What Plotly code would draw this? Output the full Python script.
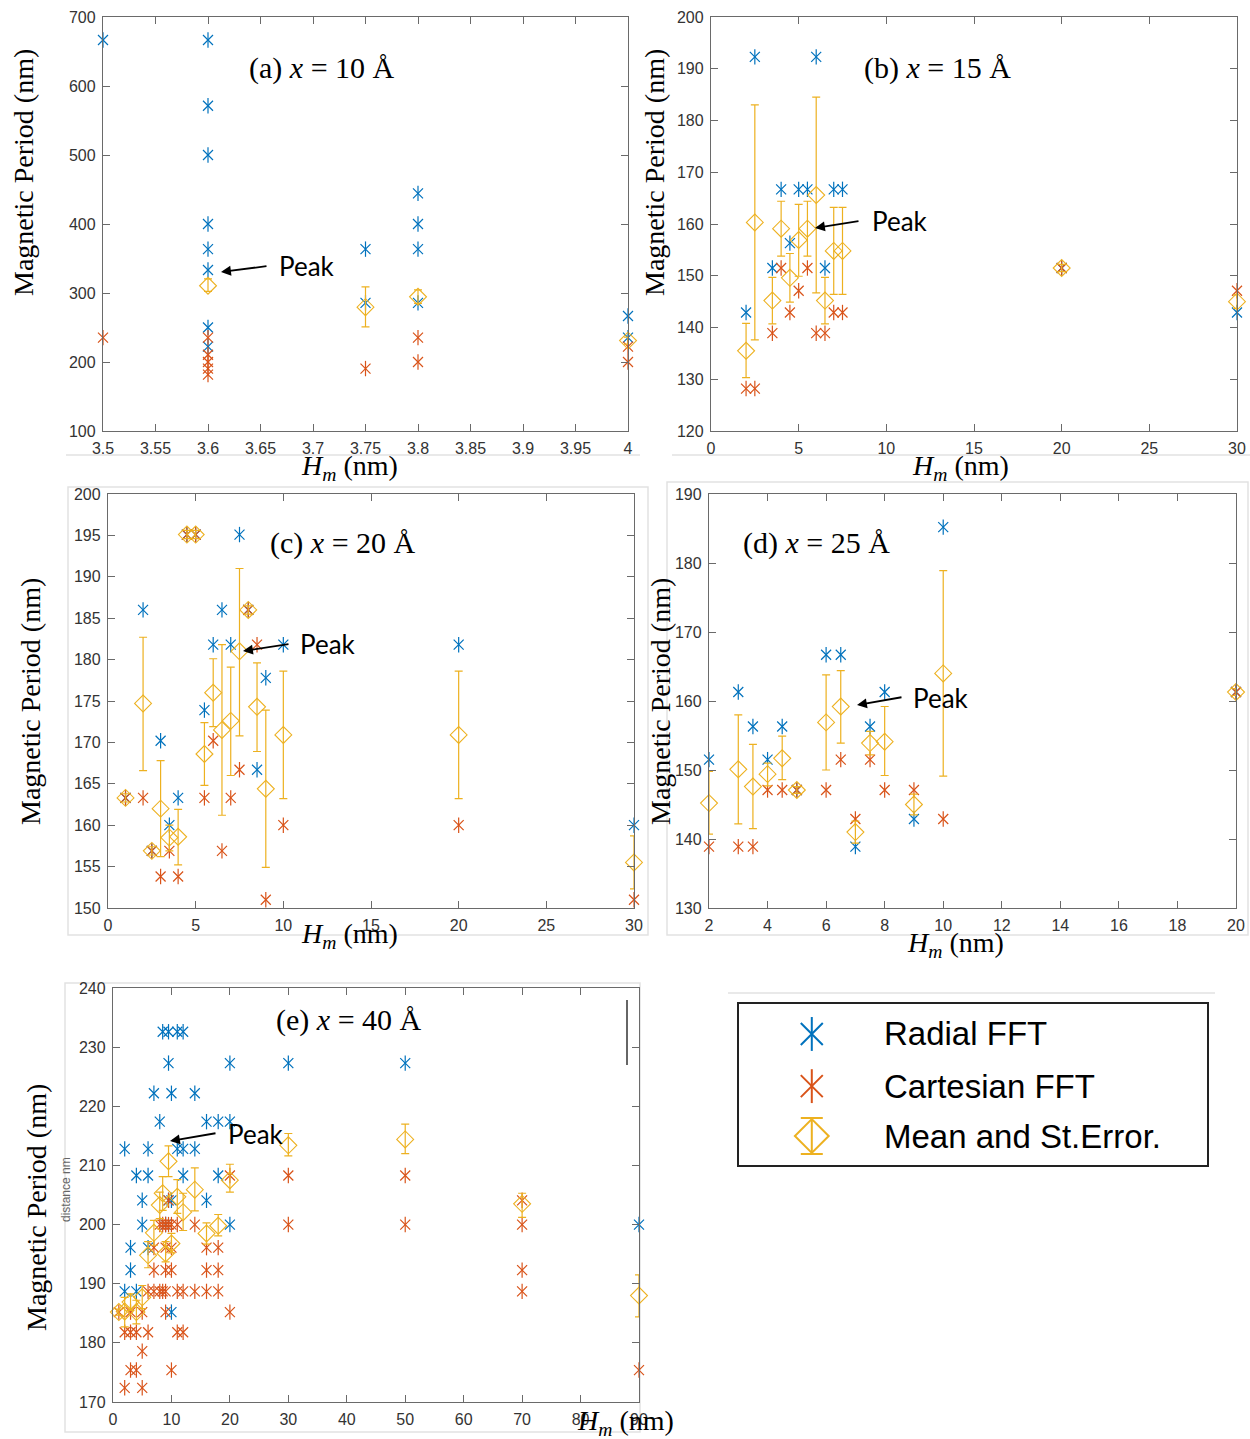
import plotly.graph_objects as go

W, H = 1250, 1439
BLUE = '#0072BD'
ORANGE = '#D95319'
YELLOW = '#EDB120'

# ---------------- Panel (a) x = 10 Å ----------------
a_rad_x = [3.5, 3.6, 3.6, 3.6, 3.6, 3.6, 3.6, 3.6, 3.6, 3.75, 3.75, 3.8, 3.8, 3.8, 3.8, 4, 4]
a_rad_y = [666.7, 666.7, 571.4, 500, 400, 363.6, 333.3, 250, 222.2, 363.6, 285.7, 444.4, 400, 363.6, 285.7, 266.7, 235.3]
a_cart_x = [3.5, 3.6, 3.6, 3.6, 3.6, 3.6, 3.75, 3.8, 3.8, 4, 4]
a_cart_y = [235.3, 235.3, 210.5, 200, 190.5, 181.8, 190.5, 235.3, 200, 222.2, 200]
a_mean_x = [3.6, 3.75, 3.8, 4]
a_mean_y = [310.5, 279.5, 294.5, 231]
a_hi = [320.5, 309, 304.5, 236]
a_lo = [302.5, 251, 285, 226]
a_xticks = [3.5, 3.55, 3.6, 3.65, 3.7, 3.75, 3.8, 3.85, 3.9, 3.95, 4]
a_xlabels = ['3.5', '3.55', '3.6', '3.65', '3.7', '3.75', '3.8', '3.85', '3.9', '3.95', '4']
a_yticks = [100, 200, 300, 400, 500, 600, 700]

# ---------------- Panel (b) x = 15 Å ----------------
b_x = [2, 2.5, 3.5, 4, 4.5, 5, 5.5, 6, 6.5, 7, 7.5, 20, 30]
b_rad_y = [142.9, 192.3, 151.5, 166.7, 156.3, 166.7, 166.7, 192.3, 151.5, 166.7, 166.7, 151.5, 142.9]
b_cart_y = [128.2, 128.2, 138.9, 151.5, 142.9, 147.1, 151.5, 138.9, 138.9, 142.9, 142.9, 151.5, 147.1]
b_mean_y = [135.5, 160.3, 145.2, 159.1, 149.6, 156.9, 159.1, 165.6, 145.2, 154.8, 154.8, 151.5, 145.0]
b_hi = [140.8, 183.0, 149.7, 164.4, 154.3, 163.8, 164.4, 184.5, 149.7, 163.2, 163.2, 152.2, 146.3]
b_lo = [130.3, 137.6, 140.7, 153.8, 144.9, 149.9, 153.8, 146.7, 140.7, 146.4, 146.4, 150.8, 143.7]
b_xticks = [0, 5, 10, 15, 20, 25, 30]
b_yticks = [120, 130, 140, 150, 160, 170, 180, 190, 200]

# ---------------- Panel (c) x = 20 Å ----------------
c_x = [1, 2, 2.5, 3, 3.5, 4, 4.5, 5, 5.5, 6, 6.5, 7, 7.5, 8, 8.5, 9, 10, 20, 30]
c_rad_y = [163.3, 186.0, 156.9, 170.2, 160.0, 163.3, 195.1, 195.1, 173.9, 181.8, 186.0, 181.8, 195.1, 186.0, 166.7, 177.8, 181.8, 181.8, 160.0]
c_cart_y = [163.3, 163.3, 156.9, 153.8, 156.9, 153.8, 195.1, 195.1, 163.3, 170.2, 156.9, 163.3, 166.7, 186.0, 181.8, 151.0, 160.0, 160.0, 151.0]
c_mean_y = [163.3, 174.7, 156.9, 162.0, 158.5, 158.6, 195.1, 195.1, 168.6, 176.0, 171.5, 172.6, 181.0, 186.0, 174.3, 164.4, 170.9, 170.9, 155.5]
c_hi = [163.8, 182.7, 157.4, 167.8, 160.0, 161.9, 195.6, 195.6, 172.4, 180.1, 181.8, 179.1, 191.0, 186.5, 179.6, 173.9, 178.6, 178.6, 158.7]
c_lo = [162.8, 166.6, 156.4, 156.2, 156.9, 155.2, 194.6, 194.6, 164.8, 171.9, 161.2, 166.0, 170.8, 185.5, 168.9, 154.9, 163.2, 163.2, 152.3]
c_xticks = [0, 5, 10, 15, 20, 25, 30]
c_yticks = [150, 155, 160, 165, 170, 175, 180, 185, 190, 195, 200]

# ---------------- Panel (d) x = 25 Å ----------------
d_x = [2, 3, 3.5, 4, 4.5, 5, 6, 6.5, 7, 7.5, 8, 9, 10, 20]
d_rad_y = [151.5, 161.3, 156.3, 151.5, 156.3, 147.1, 166.7, 166.7, 138.9, 156.3, 161.3, 142.9, 185.2, 161.3]
d_cart_y = [138.9, 138.9, 138.9, 147.1, 147.1, 147.1, 147.1, 151.5, 142.9, 151.5, 147.1, 147.1, 142.9, 161.3]
d_mean_y = [145.2, 150.1, 147.6, 149.4, 151.7, 147.1, 156.9, 159.2, 141.0, 153.9, 154.1, 145.0, 164.0, 161.3]
d_hi = [149.8, 158.0, 153.7, 151.0, 154.9, 147.6, 163.8, 164.4, 142.6, 155.6, 159.2, 146.5, 178.9, 161.8]
d_lo = [140.7, 142.2, 141.5, 147.7, 148.6, 146.6, 150.0, 153.9, 139.4, 152.2, 149.2, 143.5, 149.1, 160.8]
d_xticks = [2, 4, 6, 8, 10, 12, 14, 16, 18, 20]
d_yticks = [130, 140, 150, 160, 170, 180, 190]

# ---------------- Panel (e) x = 40 Å ----------------
e_rad_x = [8.5, 9.5, 11, 12, 9.5, 20, 30, 50, 7, 10, 14, 8, 16, 18, 20,
           2, 6, 11, 12, 14, 4, 6, 12, 18, 5, 9.5, 10, 16, 5, 9, 20, 90,
           3, 6, 3, 2, 4, 10]
e_rad_y = [232.6, 232.6, 232.6, 232.6, 227.3, 227.3, 227.3, 227.3, 222.2, 222.2, 222.2, 217.4, 217.4, 217.4, 217.4,
           212.8, 212.8, 212.8, 212.8, 212.8, 208.3, 208.3, 208.3, 208.3, 204.1, 204.1, 204.1, 204.1, 200, 200, 200, 200,
           196.1, 196.1, 192.3, 188.7, 188.7, 185.2]
e_cart_x = [20, 30, 50, 9.5, 70,
            8, 8.5, 9, 9.5, 10, 11, 14, 30, 50, 70,
            7, 9, 10, 16, 18,
            7, 9, 10, 16, 18, 70,
            6, 7, 8, 8.5, 9, 11, 12, 14, 16, 18, 70,
            1, 3, 5, 9, 20,
            2, 3, 4, 6, 11, 12,
            5,
            3, 4, 10, 90,
            2, 5]
e_cart_y = [208.3, 208.3, 208.3, 204.1, 204.1,
            200, 200, 200, 200, 200, 200, 200, 200, 200, 200,
            196.1, 196.1, 196.1, 196.1, 196.1,
            192.3, 192.3, 192.3, 192.3, 192.3, 192.3,
            188.7, 188.7, 188.7, 188.7, 188.7, 188.7, 188.7, 188.7, 188.7, 188.7, 188.7,
            185.2, 185.2, 185.2, 185.2, 185.2,
            181.8, 181.8, 181.8, 181.8, 181.8, 181.8,
            178.6,
            175.4, 175.4, 175.4, 175.4,
            172.4, 172.4]
e_mean_x = [1, 2, 3, 4, 5, 6, 7, 8, 8.5, 9, 9.5, 10, 11, 12, 14, 16, 18, 20, 30, 50, 70, 90]
e_mean_y = [185.2, 185.3, 186.9, 185.2, 187.7, 194.8, 198.6, 203.3, 205.3, 195.1, 210.7, 196.8, 204.7, 202.1, 205.9, 198.5, 199.8, 207.5, 213.4, 214.4, 203.5, 188.0]
e_hi = [185.7, 187.7, 188.3, 187.2, 189.7, 197.1, 200.7, 205.5, 208.1, 197.1, 213.3, 198.5, 207.6, 205.3, 209.6, 200.3, 201.7, 210.2, 215.4, 217.0, 205.3, 191.5]
e_lo = [184.7, 182.7, 185.5, 183.2, 185.8, 192.7, 196.5, 201.0, 202.4, 193.7, 208.1, 195.2, 201.9, 199.0, 202.3, 196.7, 198.1, 205.5, 211.6, 212.0, 201.2, 184.4]
e_xticks = [0, 10, 20, 30, 40, 50, 60, 70, 80, 90]
e_yticks = [170, 180, 190, 200, 210, 220, 230, 240]

legend_labels = ['Radial FFT', 'Cartesian FFT', 'Mean and St.Error.']
panel_labels = ['(a) <i>x</i> = 10 Å', '(b) <i>x</i> = 15 Å', '(c) <i>x</i> = 20 Å',
                '(d) <i>x</i> = 25 Å', '(e) <i>x</i> = 40 Å']
y_title = 'Magnetic Period (nm)'
x_title = '<i>H</i><sub><i>m</i></sub> (nm)'


def px(x):
    return x / W


def py(y):
    return 1 - y / H


panels = [
    dict(rx=a_rad_x, ry=a_rad_y, cx=a_cart_x, cy=a_cart_y, mx=a_mean_x, my=a_mean_y, hi=a_hi, lo=a_lo,
         xr=[3.5, 4], yr=[100, 700], xt=a_xticks, xl=a_xlabels, yt=a_yticks,
         box=(103, 628, 17, 431), lab=(322, 68), ytl=(24, 173), xtl=(349, 467),
         head=(221, 272), tail=(268, 266), peak=(307, 266)),
    dict(rx=b_x, ry=b_rad_y, cx=b_x, cy=b_cart_y, mx=b_x, my=b_mean_y, hi=b_hi, lo=b_lo,
         xr=[0, 30], yr=[120, 200], xt=b_xticks, xl=None, yt=b_yticks,
         box=(711, 1237, 17, 431), lab=(937, 68), ytl=(655, 173), xtl=(960, 467),
         head=(815, 228), tail=(860, 221), peak=(900, 221)),
    dict(rx=c_x, ry=c_rad_y, cx=c_x, cy=c_cart_y, mx=c_x, my=c_mean_y, hi=c_hi, lo=c_lo,
         xr=[0, 30], yr=[150, 200], xt=c_xticks, xl=None, yt=c_yticks,
         box=(108, 634, 494, 908), lab=(343, 543), ytl=(30, 702), xtl=(349, 936),
         head=(243, 651), tail=(290, 644), peak=(328, 644)),
    dict(rx=d_x, ry=d_rad_y, cx=d_x, cy=d_cart_y, mx=d_x, my=d_mean_y, hi=d_hi, lo=d_lo,
         xr=[2, 20], yr=[130, 190], xt=d_xticks, xl=None, yt=d_yticks,
         box=(709, 1236, 494, 908), lab=(816, 543), ytl=(660, 702), xtl=(955, 944),
         head=(857, 705), tail=(903, 697), peak=(941, 698)),
    dict(rx=e_rad_x, ry=e_rad_y, cx=e_cart_x, cy=e_cart_y, mx=e_mean_x, my=e_mean_y, hi=e_hi, lo=e_lo,
         xr=[0, 90], yr=[170, 240], xt=e_xticks, xl=None, yt=e_yticks,
         box=(113, 639, 988, 1402), lab=(349, 1020), ytl=(36, 1208), xtl=(625, 1422),
         head=(170, 1141), tail=(217, 1133), peak=(256, 1134)),
]

fig = go.Figure()
annotations = []
shapes = []
layout_axes = {}
AXC = '#6a6a6a'
TICKFONT = dict(family='Liberation Sans, Arial, sans-serif', size=16, color='#333333')


def add_star(x, y, color, xa, ya, size=10, lw=1.2):
    # MATLAB-style asterisk: a vertical stroke overlaid on a thin diagonal cross
    for sym, s in (('x-thin-open', size), ('line-ns-open', size * 1.1)):
        fig.add_trace(go.Scatter(x=x, y=y, mode='markers', xaxis=xa, yaxis=ya, showlegend=False,
                                 cliponaxis=False,
                                 marker=dict(symbol=sym, size=s, color=color,
                                             line=dict(color=color, width=lw))))


# faint figure boundaries of the original composite
for (x0, x1, y0, y1) in [(66, 640, 455, 455), (672, 1250, 455, 455), (68, 648, 487, 935),
                         (667, 1248, 482, 935), (65, 640, 983, 1432), (728, 1215, 993, 993)]:
    if y0 == y1:
        shapes.append(dict(type='line', xref='paper', yref='paper', x0=px(x0), x1=px(x1), y0=py(y0), y1=py(y1),
                           line=dict(color='#e2e2e2', width=1.5), layer='below'))
    else:
        shapes.append(dict(type='rect', xref='paper', yref='paper', x0=px(x0), x1=px(x1), y0=py(y1), y1=py(y0),
                           line=dict(color='#e2e2e2', width=1.5), layer='below'))

for i, p in enumerate(panels):
    n = '' if i == 0 else str(i + 1)
    xa, ya = 'x' + n, 'y' + n
    err_plus = [h - m for h, m in zip(p['hi'], p['my'])]
    err_minus = [m - l for m, l in zip(p['my'], p['lo'])]
    add_star(p['rx'], p['ry'], BLUE, xa, ya)
    add_star(p['cx'], p['cy'], ORANGE, xa, ya)
    fig.add_trace(go.Scatter(x=p['mx'], y=p['my'], mode='markers', xaxis=xa, yaxis=ya, showlegend=False,
                             cliponaxis=False,
                             marker=dict(symbol='diamond-open', size=13, color=YELLOW, line=dict(color=YELLOW, width=1.1)),
                             error_y=dict(type='data', symmetric=False, array=err_plus, arrayminus=err_minus,
                                          color=YELLOW, thickness=1.2, width=4)))
    x0, x1, y0, y1 = p['box']
    xaxis = dict(domain=[px(x0), px(x1)], range=p['xr'], anchor=ya, showgrid=False, zeroline=False,
                 automargin=False,
                 showline=True, mirror='ticks', linecolor=AXC, linewidth=1.3, ticks='inside', ticklen=7,
                 tickcolor=AXC, tickwidth=1.2, tickvals=p['xt'], tickfont=TICKFONT, ticklabelstandoff=3)
    if p['xl']:
        xaxis['ticktext'] = p['xl']
    yaxis = dict(domain=[py(y1), py(y0)], range=p['yr'], anchor=xa, showgrid=False, zeroline=False,
                 automargin=False,
                 showline=True, mirror='ticks', linecolor=AXC, linewidth=1.3, ticks='inside', ticklen=7,
                 tickcolor=AXC, tickwidth=1.2, tickvals=p['yt'], tickfont=TICKFONT, ticklabelstandoff=3)
    layout_axes['xaxis' + n] = xaxis
    layout_axes['yaxis' + n] = yaxis

    # panel label
    annotations.append(dict(text=panel_labels[i], xref='paper', yref='paper', x=px(p['lab'][0]), y=py(p['lab'][1]),
                            showarrow=False, xanchor='center', yanchor='middle',
                            font=dict(family='Liberation Serif, DejaVu Serif, serif', size=30, color='black')))
    # axis titles
    annotations.append(dict(text=y_title, xref='paper', yref='paper', x=px(p['ytl'][0]), y=py(p['ytl'][1]),
                            showarrow=False, textangle=-90, xanchor='center', yanchor='middle',
                            font=dict(family='Liberation Serif, Times New Roman, serif', size=28, color='black')))
    annotations.append(dict(text=x_title, xref='paper', yref='paper', x=px(p['xtl'][0]), y=py(p['xtl'][1]),
                            showarrow=False, xanchor='center', yanchor='middle',
                            font=dict(family='Liberation Serif, Times New Roman, serif', size=28, color='black')))
    # Peak arrow and text
    hx, hy = p['head']
    tx, ty = p['tail']
    annotations.append(dict(text='', xref='paper', yref='paper', x=px(hx), y=py(hy), ax=tx - hx, ay=ty - hy,
                            showarrow=True, arrowhead=2, arrowsize=1.1, arrowwidth=1.8, arrowcolor='black'))
    annotations.append(dict(text='Peak', xref='paper', yref='paper', x=px(p['peak'][0]), y=py(p['peak'][1]),
                            showarrow=False, xanchor='center', yanchor='middle',
                            font=dict(family='Lato, Open Sans, sans-serif', size=26, color='black')))

# ---------------- Legend (drawn on its own hidden axis) ----------------
leg_y = [0.81, 0.49, 0.184]
layout_axes['xaxis6'] = dict(domain=[px(738), px(1208)], range=[0, 1], anchor='y6', visible=False, automargin=False)
layout_axes['yaxis6'] = dict(domain=[py(1166), py(1003)], range=[0, 1], anchor='x6', visible=False, automargin=False)
add_star([0.157], [leg_y[0]], BLUE, 'x6', 'y6', size=22, lw=2)
add_star([0.157], [leg_y[1]], ORANGE, 'x6', 'y6', size=22, lw=2)
fig.add_trace(go.Scatter(x=[0.157], y=[leg_y[2]], mode='markers', xaxis='x6', yaxis='y6', showlegend=False,
                         marker=dict(symbol='diamond-open', size=26, color=YELLOW, line=dict(color=YELLOW, width=2)),
                         error_y=dict(type='data', array=[0.11], color=YELLOW, thickness=2, width=11)))
for lab, ly in zip(legend_labels, leg_y):
    annotations.append(dict(text=lab, xref='x6', yref='y6', x=0.307, y=ly, showarrow=False,
                            xanchor='left', yanchor='middle',
                            font=dict(family='Liberation Sans, Arial, sans-serif', size=33, color='black')))
shapes.append(dict(type='rect', xref='paper', yref='paper', x0=px(738), x1=px(1208), y0=py(1166), y1=py(1003),
                   line=dict(color='#222222', width=2)))

# small leftover artifacts of the original composite
shapes.append(dict(type='line', xref='paper', yref='paper', x0=px(627), x1=px(627), y0=py(1000), y1=py(1065),
                   line=dict(color='#333333', width=1.5)))
annotations.append(dict(text='distance nm', xref='paper', yref='paper', x=px(66), y=py(1190), showarrow=False,
                        textangle=-90, xanchor='center', yanchor='middle',
                        font=dict(family='Liberation Sans, Arial, sans-serif', size=12, color='#666666')))

fig.update_layout(width=W, height=H, margin=dict(l=0, r=0, t=0, b=0, pad=0, autoexpand=False),
                  paper_bgcolor='white', plot_bgcolor='white', showlegend=False,
                  annotations=annotations, shapes=shapes, **layout_axes)

fig.write_html('out.html')
